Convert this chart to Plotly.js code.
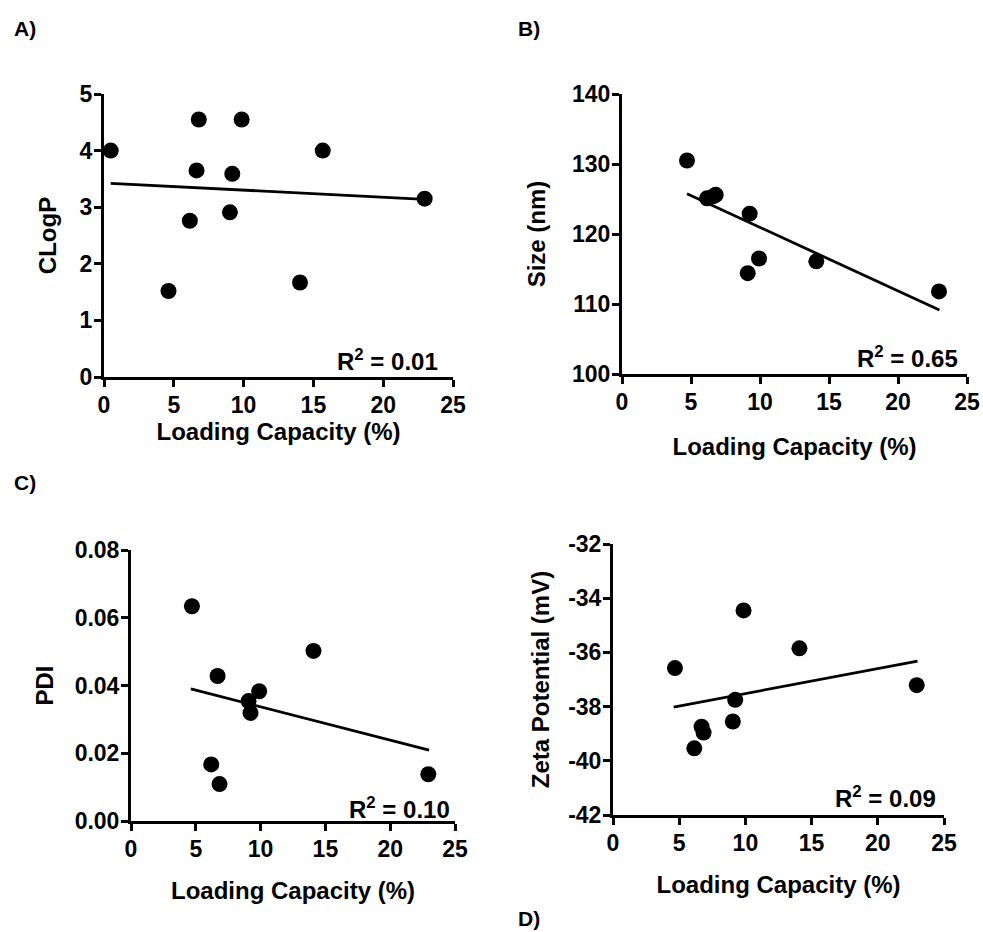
<!DOCTYPE html>
<html>
<head>
<meta charset="utf-8">
<script src="https://cdn.plot.ly/plotly-3.0.1.min.js"></script>
<style>html,body{margin:0;padding:0;background:#fff;}#chart{width:983px;height:932px;}</style>
</head>
<body>
<div id="chart"></div>
<script>
// ---- data ----
const clogpX = [0.48, 4.62, 6.15, 6.63, 6.79, 9.02, 9.19, 9.86, 14.04, 15.67, 22.97];
const clogpY = [4.00, 1.52, 2.76, 3.65, 4.55, 2.91, 3.59, 4.55, 1.67, 4.00, 3.15];
const clogpFitX = [0.48, 22.97];
const clogpFitY = [3.42, 3.14];

const sizeX = [4.71, 6.16, 6.63, 6.79, 9.11, 9.25, 9.93, 14.08, 22.97];
const sizeY = [130.5, 125.1, 125.4, 125.6, 114.4, 122.9, 116.5, 116.1, 111.8];
const sizeFitX = [4.71, 23.0];
const sizeFitY = [125.75, 109.15];

const pdiX = [4.70, 6.19, 6.68, 6.83, 9.07, 9.22, 9.89, 14.08, 22.94];
const pdiY = [0.0634, 0.0167, 0.0428, 0.0109, 0.0354, 0.0319, 0.0383, 0.0502, 0.0138];
const pdiFitX = [4.62, 23.0];
const pdiFitY = [0.0390, 0.0209];

const zetaX = [4.68, 6.14, 6.69, 6.84, 9.05, 9.23, 9.86, 14.08, 22.94];
const zetaY = [-36.58, -39.54, -38.74, -38.96, -38.55, -37.75, -34.45, -35.85, -37.21];
const zetaFitX = [4.58, 23.0];
const zetaFitY = [-38.02, -36.32];

// tick labels
const xTickVals = [0, 5, 10, 15, 20, 25];
const xTickText = ['0', '5', '10', '15', '20', '25'];
const clogpTickVals = [0, 1, 2, 3, 4, 5];
const clogpTickText = ['0', '1', '2', '3', '4', '5'];
const sizeTickVals = [100, 110, 120, 130, 140];
const sizeTickText = ['100', '110', '120', '130', '140'];
const pdiTickVals = [0, 0.02, 0.04, 0.06, 0.08];
const pdiTickText = ['0.00', '0.02', '0.04', '0.06', '0.08'];
const zetaTickVals = [-42, -40, -38, -36, -34, -32];
const zetaTickText = ['-42', '-40', '-38', '-36', '-34', '-32'];

const r2Labels = ['R<sup>2</sup> = 0.01', 'R<sup>2</sup> = 0.65', 'R<sup>2</sup> = 0.10', 'R<sup>2</sup> = 0.09'];
const panelLabels = ['A)', 'B)', 'C)', 'D)'];
const xTitle = 'Loading Capacity (%)';
const yTitles = ['CLogP', 'Size (nm)', 'PDI', 'Zeta Potential (mV)'];

// ---- build ----
const W = 983, H = 932;
const FONT = 'Liberation Sans, Arial, sans-serif';
const px = v => v / W;
const py = v => 1 - v / H;

const sets = [
  {x: clogpX, y: clogpY, fx: clogpFitX, fy: clogpFitY, tv: clogpTickVals, tt: clogpTickText},
  {x: sizeX, y: sizeY, fx: sizeFitX, fy: sizeFitY, tv: sizeTickVals, tt: sizeTickText},
  {x: pdiX, y: pdiY, fx: pdiFitX, fy: pdiFitY, tv: pdiTickVals, tt: pdiTickText},
  {x: zetaX, y: zetaY, fx: zetaFitX, fy: zetaFitY, tv: zetaTickVals, tt: zetaTickText}
];
const traces = [];
sets.forEach((s, i) => {
  const xa = i === 0 ? 'x' : 'x' + (i + 1);
  const ya = i === 0 ? 'y' : 'y' + (i + 1);
  traces.push({x: s.fx, y: s.fy, xaxis: xa, yaxis: ya, mode: 'lines', type: 'scatter',
    line: {color: '#000', width: 2.8}, hoverinfo: 'skip', showlegend: false, cliponaxis: false});
  traces.push({x: s.x, y: s.y, xaxis: xa, yaxis: ya, mode: 'markers', type: 'scatter',
    marker: {color: '#000', size: 16, line: {width: 0}}, showlegend: false, cliponaxis: false});
});

// panel pixel boxes [left, right, top, bottom]
const boxes = [
  [104, 453, 94, 377],
  [622, 967, 94, 374],
  [131, 455, 550, 821],
  [613, 944, 544, 815]
];
const yRanges = [[0, 5], [100, 140], [0, 0.08], [-42, -32]];
const xStand = [2, 25, 22, 22];
const yStand = [17, 20, 15, 12];

const layout = {
  width: W, height: H,
  margin: {l: 0, r: 0, t: 0, b: 0},
  paper_bgcolor: '#fff', plot_bgcolor: 'rgba(0,0,0,0)',
  showlegend: false,
  font: {family: FONT, color: '#000'},
  annotations: []
};
boxes.forEach((b, i) => {
  const sx = i === 0 ? '' : String(i + 1);
  const common = {
    showgrid: false, zeroline: false, showline: true, linecolor: '#000', linewidth: 3,
    ticks: 'outside', ticklen: 7, tickwidth: 3, tickcolor: '#000',
    tickfont: {family: FONT, size: 23, color: '#000', weight: 'bold'},
    automargin: false, fixedrange: true, tickmode: 'array'
  };
  layout['xaxis' + sx] = Object.assign({}, common, {
    domain: [px(b[0]), px(b[1])], anchor: 'y' + sx,
    range: [0, 25], tickvals: xTickVals, ticktext: xTickText, ticklabelstandoff: -2,
    title: {text: xTitle, font: {family: FONT, size: 24, color: '#000', weight: 'bold'}, standoff: xStand[i]}
  });
  layout['yaxis' + sx] = Object.assign({}, common, {
    domain: [py(b[3]), py(b[2])], anchor: 'x' + sx,
    range: yRanges[i], tickvals: sets[i].tv, ticktext: sets[i].tt, ticklabelstandoff: -3,
    title: {text: yTitles[i], font: {family: FONT, size: 24, color: '#000', weight: 'bold'}, standoff: yStand[i]}
  });
});

const r2Pos = [[440, 360], [960, 357], [452, 808], [938, 797]];
r2Pos.forEach((p, i) => {
  layout.annotations.push({text: '<b>' + r2Labels[i] + '</b>', xref: 'paper', yref: 'paper',
    x: px(p[0]), y: py(p[1]), xanchor: 'right', yanchor: 'middle', showarrow: false,
    font: {family: FONT, size: 24, color: '#000'}});
});
const labelPos = [[12, 28], [516, 28], [12, 482], [516, 918]];
labelPos.forEach((p, i) => {
  layout.annotations.push({text: '<b>' + panelLabels[i] + '</b>', xref: 'paper', yref: 'paper',
    x: px(p[0]), y: py(p[1]), xanchor: 'left', yanchor: 'middle', showarrow: false,
    font: {family: FONT, size: 21, color: '#000'}});
});

Plotly.newPlot('chart', traces, layout, {staticPlot: true, displayModeBar: false});
</script>
</body>
</html>
